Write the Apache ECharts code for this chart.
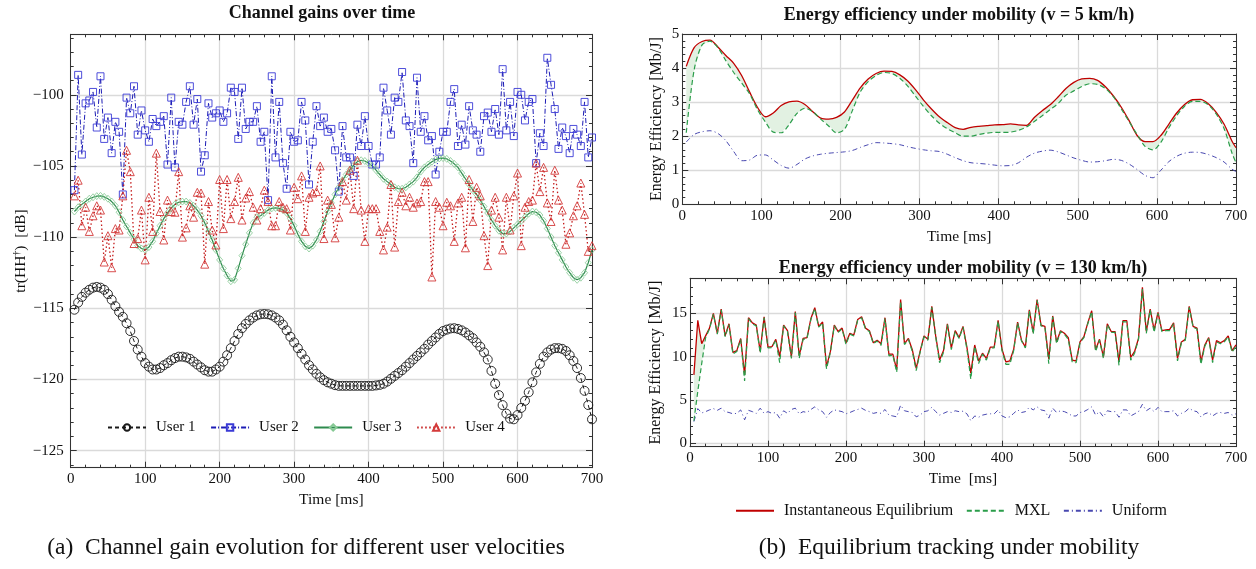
<!DOCTYPE html>
<html><head><meta charset="utf-8">
<script src="https://cdn.jsdelivr.net/npm/echarts@6/dist/echarts.min.js"></script>
<style>html,body{margin:0;padding:0;background:#fff}#c{width:1256px;height:569px}</style>
</head><body><div id="c"></div>
<script>
const FONT = '"Liberation Serif", "Times New Roman", serif';

// ---------- Left panel: channel gains, samples at 5,10,...,700 ms ----------
const user1 = [
 -115.1,-114.6,-114.2,-113.9,-113.7,-113.55,-113.5,-113.55,-113.7,-114.0,
 -114.4,-114.85,-115.25,-115.6,-116.05,-116.6,-117.3,-117.9,-118.4,-118.85,
 -119.1,-119.3,-119.3,-119.2,-119.0,-118.85,-118.65,-118.5,-118.4,-118.4,
 -118.45,-118.55,-118.75,-118.95,-119.15,-119.35,-119.45,-119.45,-119.3,-119.1,
 -118.75,-118.3,-117.8,-117.3,-116.8,-116.4,-116.1,-115.85,-115.65,-115.5,
 -115.42,-115.4,-115.42,-115.5,-115.65,-115.85,-116.15,-116.55,-117.0,-117.4,
 -117.8,-118.2,-118.6,-119.0,-119.3,-119.6,-119.85,-120.05,-120.2,-120.3,
 -120.4,-120.45,-120.45,-120.45,-120.45,-120.45,-120.45,-120.45,-120.45,-120.45,
 -120.45,-120.42,-120.38,-120.3,-120.15,-119.95,-119.75,-119.55,-119.35,-119.1,
 -118.85,-118.6,-118.35,-118.1,-117.85,-117.55,-117.3,-117.05,-116.8,-116.6,
 -116.5,-116.42,-116.4,-116.45,-116.55,-116.7,-116.9,-117.1,-117.4,-117.7,
 -118.1,-118.6,-119.4,-120.3,-121.1,-121.8,-122.4,-122.75,-122.8,-122.5,
 -122.0,-121.5,-120.9,-120.2,-119.5,-118.9,-118.4,-118.1,-117.9,-117.8,
 -117.8,-117.85,-118.0,-118.3,-118.7,-119.2,-119.9,-120.8,-121.8,-122.8
];
const user2 = [
 -106.7,-98.6,-104.2,-100.6,-100.4,-99.8,-102.3,-98.7,-103.1,-101.6,
 -104.1,-101.9,-102.6,-107.0,-100.2,-101.3,-99.4,-102.8,-101.1,-102.5,
 -103.3,-101.7,-102.2,-101.9,-101.5,-104.9,-100.2,-105.1,-101.9,-102.1,
 -100.5,-99.4,-102.1,-100.3,-105.4,-104.25,-100.6,-101.6,-101.3,-101.1,
 -101.9,-101.3,-99.5,-99.8,-103.1,-99.5,-102.4,-101.9,-101.9,-100.8,
 -103.3,-102.6,-107.4,-98.7,-104.4,-100.5,-104.8,-106.6,-102.6,-103.3,
 -103.2,-100.5,-101.8,-106.3,-103.3,-100.8,-102.2,-101.6,-102.6,-102.4,
 -103.9,-106.8,-102.2,-104.4,-104.4,-105.7,-102.1,-103.6,-101.5,-103.6,
 -104.9,-104.9,-104.4,-99.5,-101.1,-102.8,-100.2,-100.5,-98.4,-101.8,
 -102.2,-104.8,-98.8,-102.6,-101.5,-103.2,-102.9,-105.6,-104.0,-102.6,
 -102.6,-100.5,-99.6,-103.6,-102.1,-103.5,-100.8,-102.5,-102.8,-104.0,
 -101.5,-101.25,-102.6,-101.0,-102.8,-98.2,-102.5,-100.5,-102.9,-99.8,
 -100.0,-101.8,-100.5,-100.3,-104.8,-102.7,-103.6,-97.4,-99.3,-101.0,
 -103.8,-102.3,-102.9,-104.1,-102.4,-102.8,-103.6,-100.5,-104.4,-103.0
];
const user3 = [
 -108.2,-107.9,-107.7,-107.5,-107.3,-107.2,-107.12,-107.1,-107.17,-107.3,
 -107.5,-107.8,-108.25,-108.8,-109.25,-109.7,-110.15,-110.6,-110.8,-110.9,
 -110.7,-110.3,-109.75,-109.2,-108.7,-108.3,-107.95,-107.7,-107.55,-107.5,
 -107.5,-107.6,-107.8,-108.1,-108.5,-109.0,-109.6,-110.2,-110.9,-111.6,
 -112.2,-112.7,-113.1,-113.0,-112.2,-111.3,-110.5,-109.7,-109.0,-108.6,
 -108.5,-108.3,-108.1,-107.98,-107.95,-107.98,-108.1,-108.3,-108.7,-109.2,
 -109.8,-110.3,-110.65,-110.8,-110.6,-110.2,-109.6,-108.9,-108.2,-107.6,
 -107.0,-106.5,-106.0,-105.6,-105.25,-104.95,-104.7,-104.6,-104.65,-104.8,
 -105.0,-105.3,-105.6,-105.9,-106.1,-106.3,-106.5,-106.6,-106.6,-106.5,
 -106.3,-106.1,-105.8,-105.4,-105.1,-104.9,-104.7,-104.55,-104.47,-104.45,
 -104.5,-104.65,-104.85,-105.1,-105.5,-105.9,-106.3,-106.7,-107.0,-107.4,
 -107.85,-108.3,-108.8,-109.2,-109.55,-109.75,-109.75,-109.6,-109.35,-109.1,
 -108.85,-108.6,-108.35,-108.2,-108.25,-108.45,-108.85,-109.4,-110.0,-110.6,
 -111.1,-111.6,-112.1,-112.5,-112.85,-113.0,-112.85,-112.5,-111.8,-110.9
];
const user4 = [
 -107.1,-106.0,-109.2,-107.9,-109.6,-108.5,-107.8,-108.1,-111.75,-109.9,
 -112.15,-109.4,-109.5,-107.1,-103.9,-105.4,-110.45,-110.1,-108.1,-111.6,
 -107.2,-109.6,-104.1,-108.2,-110.2,-107.4,-108.2,-108.25,-105.4,-110.0,
 -109.35,-107.8,-108.6,-106.85,-106.9,-111.9,-107.5,-109.5,-110.55,-105.95,
 -109.4,-105.95,-108.7,-107.5,-105.8,-108.8,-107.25,-106.8,-107.9,-108.8,
 -108.0,-106.7,-107.5,-109.2,-109.2,-107.5,-107.9,-108.0,-109.5,-106.5,
 -107.3,-105.7,-109.6,-107.2,-106.9,-106.8,-105.0,-110.1,-107.4,-107.7,
 -110.05,-108.6,-106.1,-107.4,-105.3,-108.0,-104.6,-108.1,-110.3,-108.0,
 -108.0,-108.0,-109.6,-110.9,-109.3,-106.3,-110.7,-107.5,-106.85,-107.8,
 -107.2,-107.9,-107.6,-107.5,-106.1,-106.1,-112.8,-107.5,-107.9,-109.2,
 -107.55,-107.8,-110.3,-107.6,-107.2,-110.75,-105.95,-108.9,-106.5,-107.1,
 -109.9,-112.0,-108.1,-107.2,-108.6,-110.9,-107.2,-109.5,-107.1,-105.5,
 -110.6,-107.9,-107.5,-107.4,-104.8,-106.8,-105.1,-107.6,-108.9,-105.3,
 -107.4,-108.1,-110.5,-109.7,-108.5,-107.8,-106.2,-108.4,-111.0,-110.6
];

// ---------- Right top: v = 5 km/h, samples at 5,15,...,695,700 ms ----------
const eq5 = [
 4.05,4.6,4.78,4.82,4.62,4.37,4.14,3.78,3.3,2.85,
 2.57,2.68,2.9,3.01,3.03,2.93,2.72,2.53,2.5,2.55,
 2.71,3.06,3.42,3.68,3.84,3.91,3.9,3.8,3.62,3.36,
 3.06,2.8,2.57,2.4,2.25,2.2,2.26,2.29,2.31,2.33,
 2.34,2.36,2.33,2.32,2.55,2.75,2.92,3.15,3.4,3.58,
 3.68,3.7,3.64,3.45,3.18,2.85,2.45,2.02,1.84,1.84,
 2.02,2.35,2.68,2.93,3.07,3.08,2.95,2.7,2.35,1.85,
 1.66
];
const mxl5 = [
 2.1,3.95,4.68,4.79,4.6,4.22,3.87,3.56,3.25,2.78,
 2.42,2.12,2.1,2.34,2.67,2.82,2.72,2.5,2.3,2.1,
 2.2,2.75,3.3,3.6,3.78,3.87,3.84,3.7,3.47,3.17,
 2.87,2.6,2.38,2.22,2.1,2.0,2.0,2.05,2.09,2.11,
 2.11,2.12,2.17,2.27,2.43,2.6,2.78,2.96,3.2,3.33,
 3.46,3.54,3.52,3.4,3.16,2.8,2.42,2.05,1.7,1.6,
 1.82,2.24,2.6,2.88,3.02,3.02,2.92,2.65,2.22,1.5,
 1.22
];
const uni5 = [
 1.83,2.05,2.13,2.16,2.08,1.87,1.55,1.28,1.3,1.44,
 1.45,1.3,1.14,1.06,1.17,1.33,1.42,1.47,1.5,1.52,
 1.54,1.58,1.67,1.75,1.81,1.8,1.78,1.75,1.69,1.64,
 1.6,1.57,1.55,1.47,1.37,1.28,1.22,1.2,1.18,1.15,
 1.13,1.14,1.22,1.38,1.5,1.56,1.59,1.54,1.45,1.36,
 1.29,1.24,1.25,1.28,1.32,1.29,1.18,1.02,0.85,0.78,
 1.0,1.25,1.41,1.5,1.53,1.52,1.46,1.37,1.24,1.03,
 0.96
];

// ---------- Right bottom: v = 130 km/h, samples at 5,10,...,700 ms ----------
const eq130 = [
 7.9,14.2,11.5,12.4,13.3,15.0,12.7,15.5,12.4,13.8,
 10.5,10.7,12.1,7.9,14.5,13.9,13.65,10.6,14.6,11.1,
 11.15,12.0,10.0,13.65,13.0,10.0,15.2,10.1,12.1,12.2,
 14.4,15.65,13.5,14.0,8.85,10.6,13.65,12.9,13.3,11.6,
 12.7,12.5,14.3,14.6,13.3,13.0,11.6,11.9,11.5,14.5,
 10.3,10.3,8.5,16.6,11.5,12.1,10.8,8.65,10.6,12.4,
 12.0,15.8,12.4,9.6,10.7,13.8,11.0,13.0,12.2,13.5,
 11.1,8.1,11.35,9.5,10.4,9.8,11.1,11.1,14.2,10.85,
 9.4,9.5,10.85,14.0,11.9,11.1,15.4,12.8,16.6,13.65,
 13.5,9.7,14.7,11.7,13.0,12.7,12.2,9.6,9.5,11.7,
 12.3,13.9,15.3,10.8,12.0,10.0,13.8,12.9,12.9,9.4,
 14.15,14.15,9.9,10.6,12.1,18.0,12.9,15.5,13.1,15.1,
 13.0,13.1,13.15,13.9,9.8,11.7,12.0,15.8,13.5,13.3,
 9.4,11.35,12.2,9.6,11.85,11.6,11.85,12.4,10.7,11.35
];
const mxl130 = [
 2.6,6.0,9.2,12.2,13.2,14.9,12.6,15.4,12.3,13.7,
 10.3,10.6,12.0,7.2,14.4,13.8,13.55,10.4,14.5,11.0,
 11.05,11.9,9.3,13.55,12.9,9.8,15.1,9.8,12.0,12.1,
 14.3,15.55,13.4,13.9,8.6,10.5,13.55,12.8,13.2,11.4,
 12.6,12.4,14.2,14.5,13.2,12.9,11.5,11.8,11.3,14.4,
 10.1,10.2,8.2,16.4,11.4,12.0,10.6,8.4,10.5,12.3,
 11.9,15.7,12.3,9.3,10.5,13.7,10.8,12.9,12.1,13.4,
 10.9,7.4,11.2,9.2,10.3,9.6,11.0,11.0,14.1,10.7,
 9.1,9.1,10.7,13.9,11.8,11.0,15.3,12.6,16.5,13.55,
 13.4,9.2,14.6,11.5,12.9,12.6,12.0,9.4,9.3,11.6,
 12.2,13.8,15.2,10.6,11.9,9.8,13.7,12.8,12.8,9.0,
 14.05,14.0,9.6,10.4,12.0,17.8,12.7,15.4,12.8,15.0,
 12.9,13.0,13.0,13.8,9.5,11.6,11.9,15.7,13.4,13.2,
 9.1,11.2,12.1,9.3,11.7,11.5,11.7,12.3,10.5,11.2
];
const uni130 = [
 2.5,4.0,3.5,3.65,3.85,4.0,3.8,4.05,3.65,3.55,
 3.4,3.45,3.85,2.7,3.8,3.65,3.45,4.05,3.45,3.65,
 3.45,3.55,2.9,3.75,3.45,3.9,4.05,3.4,3.65,3.55,
 3.9,4.2,3.85,3.65,3.0,3.55,3.85,3.75,3.65,3.4,
 3.55,3.75,3.9,4.05,3.8,3.65,3.45,3.55,3.45,3.9,
 3.25,3.15,3.05,4.4,3.75,3.65,3.55,3.05,3.25,3.65,
 3.75,4.15,3.65,3.25,3.45,3.65,3.55,3.75,3.65,3.7,
 3.4,2.6,3.15,3.0,3.25,3.35,3.4,3.4,3.85,3.15,
 2.95,3.05,3.45,3.85,3.55,3.65,4.15,3.85,4.2,3.85,
 3.75,2.9,4.05,3.55,3.75,3.65,3.45,3.15,3.15,3.55,
 3.65,3.9,4.2,3.25,3.65,3.05,3.75,3.65,3.65,3.0,
 3.85,3.85,3.15,3.4,3.65,4.5,3.75,4.05,3.65,4.15,
 3.65,3.65,3.65,3.75,3.15,3.45,3.65,4.05,3.75,3.65,
 3.05,3.4,3.55,3.15,3.45,3.55,3.45,3.55,3.25,3.4
];

// sample times
const tFine = Array.from({length: 140}, (_, i) => 5 * (i + 1));
const tCoarse = Array.from({length: 70}, (_, i) => 5 + 10 * i).concat([700]);

const pairs = (t, v) => t.map((x, i) => [x, v[i]]);

const AX = '#333';
const TXT = '#111';
const labelStyle = {fontFamily: FONT, fontSize: 15, color: TXT};
const nameStyle = {fontFamily: FONT, fontSize: 16, color: TXT};

function xMain(gi, name, gap) {
  return {
    type: 'value', gridIndex: gi, position: 'bottom', min: 0, max: 700, interval: 100,
    name: name, nameLocation: 'middle', nameGap: gap, nameTextStyle: Object.assign({}, labelStyle, {fontSize: 15.5}),
    axisLine: {show: true, onZero: false, lineStyle: {color: AX, width: 1}},
    axisTick: {show: true, inside: true, length: 6, lineStyle: {color: AX}},
    minorTick: {show: true, splitNumber: 5, length: 3, lineStyle: {color: AX}},
    axisLabel: Object.assign({margin: 4}, labelStyle),
    splitLine: {show: true, lineStyle: {color: '#dadada', width: 1.3}}
  };
}
function xTop(gi) {
  return {
    type: 'value', gridIndex: gi, position: 'top', min: 0, max: 700, interval: 100,
    axisLine: {show: true, onZero: false, lineStyle: {color: AX, width: 1}},
    axisTick: {show: true, inside: true, length: 6, lineStyle: {color: AX}},
    minorTick: {show: true, splitNumber: 5, length: 3, lineStyle: {color: AX}},
    axisLabel: {show: false}, splitLine: {show: false}
  };
}
function yAxisPair(gi, min, max, opts) {
  const main = Object.assign({
    type: 'value', gridIndex: gi, position: 'left', min: min, max: max,
    nameLocation: 'middle',
    axisLine: {show: true, onZero: false, lineStyle: {color: AX, width: 1}},
    axisTick: {show: true, inside: true, length: 6, lineStyle: {color: AX}},
    minorTick: {show: true, splitNumber: 5, length: 3, lineStyle: {color: AX}},
    splitLine: {show: true, lineStyle: {color: '#dadada', width: 1.3}}
  }, opts);
  const side = {
    type: 'value', gridIndex: gi, position: 'right', min: min, max: max,
    interval: opts.interval, splitNumber: opts.splitNumber,
    axisLine: {show: true, onZero: false, lineStyle: {color: AX, width: 1}},
    axisTick: {show: true, inside: true, length: 6, lineStyle: {color: AX}},
    minorTick: {show: true, splitNumber: 5, length: 3, lineStyle: {color: AX}},
    axisLabel: {show: false}, splitLine: {show: false}
  };
  return [main, side];
}
const isMult = (v, m) => Math.abs(v - Math.round(v)) < 1e-6 && Math.round(v) % m === 0;

const yL = yAxisPair(0, -126.2, -95.75, {
  splitNumber: 5,
  name: '{a|tr(HH}{s|†}{a|)  [dB]}', nameGap: 40,
  nameTextStyle: {rich: {a: {fontFamily: FONT, fontSize: 15.5, color: TXT}, s: {fontFamily: FONT, fontSize: 10, color: TXT, verticalAlign: 'top'}}},
  axisLabel: Object.assign({margin: 7, showMinLabel: false, showMaxLabel: false,
    formatter: v => isMult(v, 5) ? String(Math.round(v)).replace('-', '\u2212') : ''}, labelStyle)
});
const yT = yAxisPair(1, 0, 5, {
  interval: 1,
  name: 'Energy Efficiency [Mb/J]', nameGap: 18, nameTextStyle: nameStyle,
  axisLabel: Object.assign({margin: 3}, labelStyle)
});
const yB = yAxisPair(2, -0.4, 19.05, {
  splitNumber: 4,
  name: 'Energy Efficiency [Mb/J]', nameGap: 26, nameTextStyle: nameStyle,
  axisLabel: Object.assign({margin: 3, showMinLabel: false, showMaxLabel: false,
    formatter: v => isMult(v, 5) ? String(Math.round(v)) : ''}, labelStyle)
});

const hollow = (c, w) => ({color: 'rgba(255,255,255,0)', borderColor: c, borderWidth: w});
const noEmph = {disabled: true};

// shaded band between the equilibrium and MXL curves, drawn through the axes' scales
function band(xIdx, yIdx, t, a, b) {
  return {
    type: 'custom', xAxisIndex: xIdx, yAxisIndex: yIdx, silent: true, z: 1,
    data: t.map((x, i) => [x, a[i], b[i]]),
    encode: {x: 0, y: [1, 2]},
    renderItem: (params, api) => {
      if (params.dataIndex !== 0) return {type: 'group', children: []};
      const pts = [];
      for (let i = 0; i < t.length; i++) pts.push(api.coord([t[i], a[i]]));
      for (let i = t.length - 1; i >= 0; i--) pts.push(api.coord([t[i], b[i]]));
      return {type: 'polygon', shape: {points: pts}, style: {fill: '#e2f1e2', stroke: null}};
    }
  };
}

const series = [
  {name: 'User 1', type: 'line', xAxisIndex: 0, yAxisIndex: 0, data: pairs(tFine, user1),
   symbol: 'circle', symbolSize: 9, itemStyle: hollow('#1a1a1a', 0.9),
   lineStyle: {color: '#1a1a1a', width: 1, type: [4, 3]}, emphasis: noEmph},
  {name: 'User 2', type: 'line', xAxisIndex: 0, yAxisIndex: 0, data: pairs(tFine, user2),
   symbol: 'rect', symbolSize: 7, itemStyle: hollow('#3a3ad6', 0.9),
   lineStyle: {color: '#1c1cb5', width: 1, type: [5, 2, 1, 2]}, emphasis: noEmph},
  {name: 'User 3', type: 'line', xAxisIndex: 0, yAxisIndex: 0, data: pairs(tFine, user3),
   symbol: 'diamond', symbolSize: [6, 7], itemStyle: hollow('#86c994', 0.8),
   lineStyle: {color: '#2e8b4e', width: 1.2}, emphasis: noEmph},
  {name: 'User 4', type: 'line', xAxisIndex: 0, yAxisIndex: 0, data: pairs(tFine, user4),
   symbol: 'triangle', symbolSize: 8, itemStyle: hollow('#d43a3a', 0.9),
   lineStyle: {color: '#c41a1a', width: 1.3, type: [1.5, 2.5]}, emphasis: noEmph},

  band(2, 2, tCoarse, eq5, mxl5),
  {name: 'Uniform', type: 'line', xAxisIndex: 2, yAxisIndex: 2, smooth: 0.3, data: pairs(tCoarse, uni5),
   symbol: 'none', lineStyle: {color: '#4848b0', width: 1, type: [5, 3, 1, 3]}, itemStyle: {color: '#4848b0'}, emphasis: noEmph, z: 2},
  {name: 'Instantaneous Equilibrium', type: 'line', xAxisIndex: 2, yAxisIndex: 2, smooth: 0.3, data: pairs(tCoarse, eq5),
   symbol: 'none', lineStyle: {color: '#c00000', width: 1.3}, itemStyle: {color: '#c00000'}, emphasis: noEmph, z: 3},
  {name: 'MXL', type: 'line', xAxisIndex: 2, yAxisIndex: 2, smooth: 0.3, data: pairs(tCoarse, mxl5),
   symbol: 'none', lineStyle: {color: '#2a9d4a', width: 1.2, type: [5, 3]}, itemStyle: {color: '#2a9d4a'}, emphasis: noEmph, z: 3},

  band(4, 4, tFine, eq130, mxl130),
  {name: 'Uniform', type: 'line', xAxisIndex: 4, yAxisIndex: 4, data: pairs(tFine, uni130),
   symbol: 'none', lineStyle: {color: '#4848b0', width: 1, type: [5, 3, 1, 3]}, itemStyle: {color: '#4848b0'}, emphasis: noEmph, z: 2},
  {name: 'Instantaneous Equilibrium', type: 'line', xAxisIndex: 4, yAxisIndex: 4, data: pairs(tFine, eq130),
   symbol: 'none', lineStyle: {color: '#c00000', width: 1.3}, itemStyle: {color: '#c00000'}, emphasis: noEmph, z: 3},
  {name: 'MXL', type: 'line', xAxisIndex: 4, yAxisIndex: 4, data: pairs(tFine, mxl130),
   symbol: 'none', lineStyle: {color: '#2a9d4a', width: 1.2, type: [5, 3]}, itemStyle: {color: '#2a9d4a'}, emphasis: noEmph, z: 3}
];

const titleFont = 'bold 18px ' + FONT;
const capFont = '23.5px ' + FONT;
const txt = (x, y, s, f) => ({type: 'text', x: x, y: y, silent: true,
  style: {text: s, font: f, fill: TXT, align: 'center', verticalAlign: 'middle'}});

const option = {
  animation: false,
  backgroundColor: '#fff',
  grid: [
    {left: 70.7, top: 34.3, width: 521.3, height: 433.4, outerBoundsMode: 'none'},
    {left: 682.3, top: 34, width: 553.7, height: 170.3, outerBoundsMode: 'none'},
    {left: 690, top: 278.3, width: 546, height: 168.4, outerBoundsMode: 'none'}
  ],
  xAxis: [xMain(0, 'Time [ms]', 24), xTop(0), xMain(1, 'Time [ms]', 25), xTop(1), xMain(2, 'Time  [ms]', 24), xTop(2)],
  yAxis: [yL[0], yL[1], yT[0], yT[1], yB[0], yB[1]],
  legend: [
    {data: ['User 1', 'User 2', 'User 3', 'User 4'], left: 107, top: 420, padding: 0,
     itemWidth: 38, itemHeight: 8, itemGap: 14.5, selectedMode: false,
     textStyle: {fontFamily: FONT, fontSize: 15, color: TXT, padding: [0, 0, 0, 5]}},
    {data: ['Instantaneous Equilibrium', 'MXL', 'Uniform'], left: 735, top: 502.7, padding: 0,
     itemWidth: 38, itemHeight: 8, itemGap: 12.5, selectedMode: false,
     itemStyle: {color: 'rgba(0,0,0,0)', borderColor: 'rgba(0,0,0,0)', borderWidth: 0},
     textStyle: {fontFamily: FONT, fontSize: 16, color: TXT, padding: [0, 0, 0, 5]}}
  ],
  graphic: [
    txt(322, 13, 'Channel gains over time', titleFont),
    txt(959, 15, 'Energy efficiency under mobility (v = 5 km/h)', titleFont),
    txt(963, 268, 'Energy efficiency under mobility (v = 130 km/h)', titleFont),
    txt(306, 548, '(a)\u2002Channel gain evolution for different user velocities', capFont),
    txt(949, 548, '(b)\u2002Equilibrium tracking under mobility', capFont)
  ],
  series: series
};

const chart = echarts.init(document.getElementById('c'), null, {renderer: 'canvas'});
chart.setOption(option);
</script>
</body></html>
